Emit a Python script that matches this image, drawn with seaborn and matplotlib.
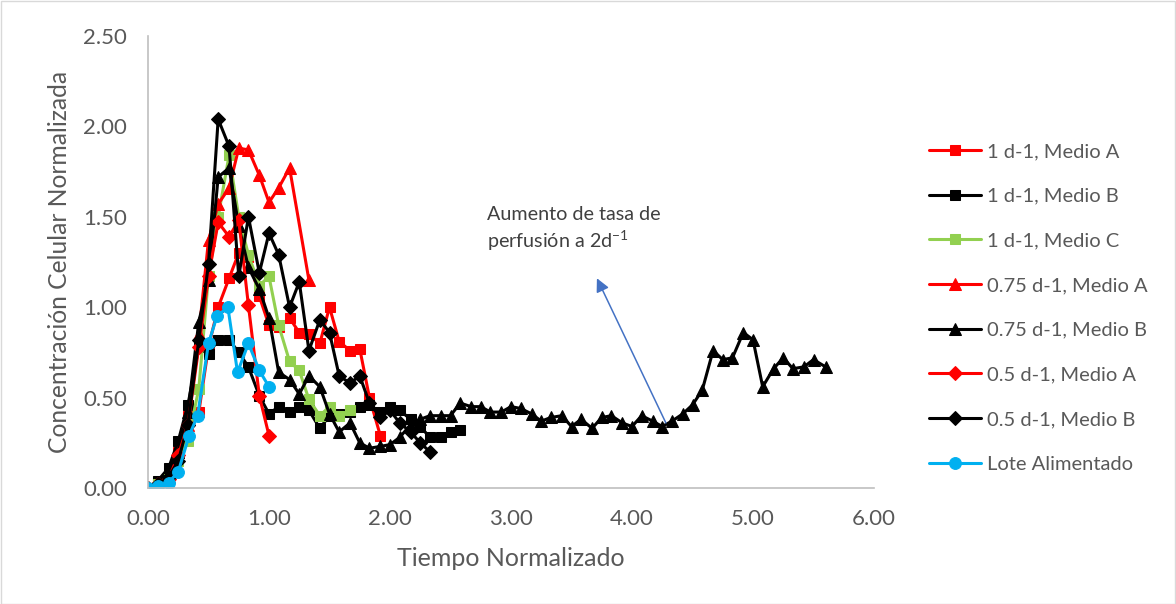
import matplotlib
matplotlib.use("Agg")
import matplotlib.pyplot as plt
from matplotlib.patches import Rectangle
import seaborn as sns
import pandas as pd

# Normalized time (x) and normalized cell concentration (y) per culture
t_1A = [0.00, 0.08, 0.17, 0.25, 0.33, 0.42, 0.50, 0.58, 0.67, 0.75, 0.83, 0.92,
        1.00, 1.08, 1.17, 1.25, 1.33, 1.42, 1.50, 1.58, 1.67, 1.75, 1.83, 1.92]
c_1A = [0.00, 0.02, 0.05, 0.20, 0.40, 0.42, 0.78, 1.00, 1.16, 1.30, 1.28, 1.06,
        0.90, 0.89, 0.94, 0.86, 0.85, 0.80, 1.00, 0.81, 0.76, 0.77, 0.50, 0.29]

t_1B = [0.00, 0.08, 0.17, 0.25, 0.33, 0.42, 0.50, 0.58, 0.67, 0.75, 0.83, 0.92,
        1.00, 1.08, 1.17, 1.25, 1.33, 1.42, 1.50, 1.58, 1.67, 1.75, 1.83, 1.92,
        2.00, 2.08, 2.17, 2.25, 2.33, 2.42, 2.50, 2.58]
c_1B = [0.00, 0.04, 0.11, 0.26, 0.46, 0.78, 0.74, 0.82, 0.82, 0.75, 0.67, 0.51,
        0.41, 0.45, 0.42, 0.45, 0.43, 0.33, 0.40, 0.41, 0.42, 0.45, 0.46, 0.42,
        0.45, 0.43, 0.38, 0.34, 0.28, 0.28, 0.31, 0.32]

t_1C = [0.00, 0.08, 0.17, 0.25, 0.33, 0.42, 0.50, 0.58, 0.67, 0.75, 0.83, 0.92,
        1.00, 1.08, 1.17, 1.25, 1.33, 1.42, 1.50, 1.58, 1.67]
c_1C = [0.00, 0.02, 0.05, 0.15, 0.26, 0.55, 1.17, 1.50, 1.84, 1.50, 1.29, 1.12,
        1.17, 0.90, 0.70, 0.65, 0.49, 0.40, 0.45, 0.40, 0.43]

t_075A = [0.00, 0.08, 0.17, 0.25, 0.33, 0.42, 0.50, 0.58, 0.67, 0.75, 0.83, 0.92,
          1.00, 1.08, 1.17, 1.33]
c_075A = [0.00, 0.02, 0.06, 0.20, 0.35, 0.85, 1.37, 1.57, 1.66, 1.88, 1.87, 1.73,
          1.58, 1.66, 1.77, 1.15]

t_075B = [0.00, 0.08, 0.17, 0.25, 0.33, 0.42, 0.50, 0.58, 0.67, 0.75, 0.83, 0.92,
          1.00, 1.08, 1.17, 1.25, 1.33, 1.42, 1.50, 1.58, 1.67, 1.75, 1.83, 1.92,
          2.00, 2.08, 2.17, 2.25, 2.33, 2.42, 2.50, 2.58, 2.67, 2.75, 2.83, 2.92,
          3.00, 3.08, 3.17, 3.25, 3.33, 3.42, 3.50, 3.58, 3.67, 3.75, 3.83, 3.92,
          4.00, 4.08, 4.17, 4.25, 4.33, 4.42, 4.50, 4.58, 4.67, 4.75, 4.83, 4.92,
          5.00, 5.08, 5.17, 5.25, 5.33, 5.42, 5.50, 5.60]
c_075B = [0.00, 0.02, 0.08, 0.20, 0.42, 0.92, 1.15, 1.72, 1.77, 1.45, 1.22, 1.10,
          0.94, 0.64, 0.60, 0.52, 0.62, 0.56, 0.41, 0.31, 0.36, 0.25, 0.22, 0.23,
          0.24, 0.28, 0.35, 0.38, 0.40, 0.40, 0.40, 0.47, 0.45, 0.45, 0.42, 0.42,
          0.45, 0.44, 0.41, 0.37, 0.39, 0.40, 0.34, 0.38, 0.33, 0.39, 0.40, 0.36,
          0.34, 0.40, 0.37, 0.34, 0.37, 0.41, 0.46, 0.54, 0.76, 0.71, 0.72, 0.86,
          0.82, 0.56, 0.66, 0.72, 0.66, 0.67, 0.71, 0.67]

t_05A = [0.00, 0.08, 0.17, 0.25, 0.33, 0.42, 0.50, 0.58, 0.67, 0.75, 0.83, 0.92, 1.00]
c_05A = [0.00, 0.02, 0.05, 0.18, 0.35, 0.78, 1.17, 1.47, 1.39, 1.48, 1.01, 0.51, 0.29]

t_05B = [0.00, 0.08, 0.17, 0.25, 0.33, 0.42, 0.50, 0.58, 0.67, 0.75, 0.83, 0.92,
         1.00, 1.08, 1.17, 1.25, 1.33, 1.42, 1.50, 1.58, 1.67, 1.75, 1.83, 1.92,
         2.00, 2.08, 2.17, 2.25, 2.33]
c_05B = [0.00, 0.02, 0.06, 0.15, 0.35, 0.82, 1.24, 2.04, 1.89, 1.17, 1.50, 1.19,
         1.41, 1.29, 1.00, 1.14, 0.76, 0.93, 0.86, 0.62, 0.58, 0.62, 0.47, 0.39,
         0.43, 0.36, 0.31, 0.25, 0.20]

t_lote = [0.00, 0.08, 0.17, 0.25, 0.34, 0.41, 0.50, 0.57, 0.66, 0.74, 0.83, 0.92, 1.00]
c_lote = [0.00, 0.01, 0.03, 0.09, 0.29, 0.40, 0.80, 0.95, 1.00, 0.64, 0.80, 0.65, 0.56]

labels = ["1 d-1, Medio A", "1 d-1, Medio B", "1 d-1, Medio C",
          "0.75 d-1, Medio A", "0.75 d-1, Medio B",
          "0.5 d-1, Medio A", "0.5 d-1, Medio B", "Lote Alimentado"]

sns.set_theme(style="white")
plt.rcParams["font.family"] = ["Lato", "DejaVu Sans"]
plt.rcParams["mathtext.default"] = "regular"

RED, BLACK, GREEN, CYAN = "#FF0000", "#000000", "#92D050", "#00B0F0"
GREY_TXT = "#595959"
GREY_AX = "#BFBFBF"

series = [
    (t_1A, c_1A, RED, "s", 7.5),
    (t_1B, c_1B, BLACK, "s", 7.5),
    (t_1C, c_1C, GREEN, "s", 7.5),
    (t_075A, c_075A, RED, "^", 8.5),
    (t_075B, c_075B, BLACK, "^", 8.5),
    (t_05A, c_05A, RED, "D", 7.5),
    (t_05B, c_05B, BLACK, "D", 7.5),
    (t_lote, c_lote, CYAN, "o", 8.5),
]

fig = plt.figure(figsize=(11.76, 6.04), dpi=100)
fig.patch.set_facecolor("white")
ax = fig.add_axes([148 / 1176, 1 - 488 / 604, (874 - 148) / 1176, (488 - 36) / 604])

for (t, c, col, mk, ms), lab in zip(series, labels):
    df = pd.DataFrame({"t": t, "c": c})
    sns.lineplot(data=df, x="t", y="c", ax=ax, color=col, marker=mk,
                 markersize=ms, markeredgecolor=col, markerfacecolor=col,
                 linewidth=2.2, sort=False, estimator=None, label=lab)

ax.set_xlim(0, 6)
ax.set_ylim(0, 2.5)
ax.set_xticks([0, 1, 2, 3, 4, 5, 6])
ax.set_xticklabels([f"{v:.2f}" for v in [0, 1, 2, 3, 4, 5, 6]])
ax.set_yticks([0, 0.5, 1.0, 1.5, 2.0, 2.5])
ax.set_yticklabels([f"{v:.2f}" for v in [0, 0.5, 1.0, 1.5, 2.0, 2.5]])
ax.set_xticks([i * 0.2 for i in range(31)], minor=True)
ax.set_yticks([i * 0.1 for i in range(26)], minor=True)
ax.tick_params(axis="both", which="both", direction="in", color=GREY_AX,
               width=1, labelcolor=GREY_TXT, labelsize=16)
ax.tick_params(axis="x", which="major", length=0, pad=15)
ax.tick_params(axis="y", which="major", length=0, pad=15)
ax.tick_params(axis="both", which="minor", length=5)
for s in ["top", "right"]:
    ax.spines[s].set_visible(False)
for s in ["left", "bottom"]:
    ax.spines[s].set_color(GREY_AX)
    ax.spines[s].set_linewidth(1.2)

ax.set_xlabel("Tiempo Normalizado", fontsize=18, color=GREY_TXT, labelpad=13)
ax.set_ylabel("Concentración Celular Normalizada", fontsize=17.7, color=GREY_TXT, labelpad=9)

handles, labs = ax.get_legend_handles_labels()
leg = ax.legend(handles, labs, loc="upper left", bbox_to_anchor=(929 / 1176, 1 - 143 / 604),
                bbox_transform=fig.transFigure, frameon=False, fontsize=14.5,
                handlelength=2.6, handletextpad=0.3, labelspacing=1.37,
                borderaxespad=0, borderpad=0)
for txt in leg.get_texts():
    txt.set_color(GREY_TXT)

ax.text(2.80, 1.43, "Aumento de tasa de\nperfusión a 2d$^{-1}$", fontsize=14.2,
        color="#404040", ha="left", va="center", linespacing=1.3)
ax.annotate("", xy=(3.71, 1.16), xytext=(4.28, 0.36),
            arrowprops=dict(arrowstyle="-|>", color="#4472C4", lw=1.1,
                            mutation_scale=20, shrinkA=0, shrinkB=0))

fig.add_artist(Rectangle((0.5 / 1176, 0.5 / 604), 1 - 1.5 / 1176, 1 - 1.5 / 604,
                         transform=fig.transFigure, fill=False,
                         edgecolor="#D9D9D9", linewidth=1))

fig.savefig("out.png", dpi=100, facecolor="white")
